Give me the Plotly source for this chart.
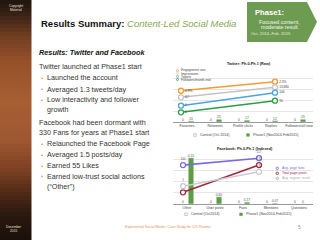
import plotly.graph_objects as go

W, H = 320, 240
def px(x): return x / W
def py(y): return 1 - y / H

# ---------------- data ----------------
tw_categories = ["Favorites", "Retweets", "Profile clicks", "Replies", "Followers/all new"]
tw_control = [0, 0, 0, 0, 0]
tw_phase1 = [10, 25, 17, 12, 25]
tw_periods = [0, 1]
tw_engagement = [57.9, 74.6]
tw_impressions = [45.7, 64.3]
tw_tweets = [30.2, 54.3]
tw_followers = [17.9, 39.4]
tw_engagement_lbl = ["0.9%", "2.3%"]
tw_impressions_lbl = ["67", "13,680"]
tw_tweets_lbl = ["0", "106"]
tw_followers_lbl = ["0", "90"]
tw_series = ["Engagement rate", "Impressions", "Tweets", "Followers/month end"]

fb_categories = ["Other", "User posts", "Fans", "Mentions", "Questions"]
fb_control = [0, 0, 0, 0, 0]
fb_phase1 = [4.15, 0.65, 0.17, 0.07, 0]
fb_periods = [0, 1]
fb_fans = [3.5, 4.12]
fb_posts = [1.05, 3.5]
fb_reach = [1.6, 2.9]
fb_fans_lbl = ["100", "117"]
fb_posts_lbl = ["1", "3.43"]
fb_reach_lbl = ["1", "1.84"]
fb_series = ["Avg. page fans", "Total page posts", "Avg. organic reach"]

body_lines = [
    ("Twitter launched at Phase1 start", False, 66.5),
    ("Launched the account", True, 78),
    ("Averaged 1.3 tweets/day", True, 89),
    ("Low interactivity and follower", True, 99.5),
    ("growth", None, 109.5),
    ("Facebook had been dormant with", False, 122.5),
    ("330 Fans for years at Phase1 start", False, 132.5),
    ("Relaunched the Facebook Page", True, 143.5),
    ("Averaged 1.5 posts/day", True, 154.5),
    ("Earned 55 Likes", True, 165.5),
    ("Earned low-trust social actions", True, 176),
    ("(\u201cOther\u201d)", None, 186),
]

# ---------------- styles ----------------
FONT = "Liberation Sans"
ORANGE = "#f39c32"
GRAYL = "#c4c4c4"
BLUE = "#4ba3e3"
GREEN = "#2d9d47"
BARG = "#5e9d43"
PURPLE = "#7b6be0"
RED = "#a3263f"
LGRAY = "#cccccc"
TXT = "#333333"

fig = go.Figure()

# Twitter bars
fig.add_trace(go.Bar(x=tw_categories, y=tw_control, xaxis="x", yaxis="y",
                     marker_color="#cfcfcf", text=[str(v) for v in tw_control],
                     textposition="outside", textfont=dict(size=3.4, color="#555"),
                     constraintext="none", cliponaxis=False))
fig.add_trace(go.Bar(x=tw_categories, y=tw_phase1, xaxis="x", yaxis="y",
                     marker_color=BARG, text=[str(v) for v in tw_phase1],
                     textposition="outside", textfont=dict(size=3.4, color="#555"),
                     constraintext="none", cliponaxis=False))
# Twitter lines
for vals, lbl, col in [(tw_engagement, tw_engagement_lbl, ORANGE),
                       (tw_impressions, tw_impressions_lbl, GRAYL),
                       (tw_tweets, tw_tweets_lbl, BLUE),
                       (tw_followers, tw_followers_lbl, GREEN)]:
    fig.add_trace(go.Scatter(x=tw_periods, y=vals, xaxis="x2", yaxis="y2",
                             mode="lines+markers+text", text=lbl,
                             textposition="middle right",
                             textfont=dict(size=3.2, color="#444"),
                             line=dict(color=col, width=1.6),
                             marker=dict(symbol="circle", size=5, color="white",
                                         line=dict(color=col, width=1.3)),
                             cliponaxis=False))

# Facebook bars
fig.add_trace(go.Bar(x=fb_categories, y=fb_control, xaxis="x3", yaxis="y3",
                     marker_color="#cfcfcf", text=[str(v) for v in fb_control],
                     textposition="outside", textfont=dict(size=3.4, color="#555"),
                     constraintext="none", cliponaxis=False))
fig.add_trace(go.Bar(x=fb_categories, y=fb_phase1, xaxis="x3", yaxis="y3",
                     marker_color=BARG, text=[str(v) for v in fb_phase1],
                     textposition="outside", textfont=dict(size=3.4, color="#555"),
                     constraintext="none", cliponaxis=False))
for vals, lbl, col in [(fb_fans, fb_fans_lbl, PURPLE),
                       (fb_posts, fb_posts_lbl, RED),
                       (fb_reach, fb_reach_lbl, LGRAY)]:
    fig.add_trace(go.Scatter(x=fb_periods, y=vals, xaxis="x4", yaxis="y4",
                             mode="lines+markers+text", text=lbl,
                             textposition="top center",
                             textfont=dict(size=3.0, color="#555"),
                             line=dict(color=col, width=1.6),
                             marker=dict(symbol="circle", size=5, color="white",
                                         line=dict(color=col, width=1.3)),
                             cliponaxis=False))

xdom = [px(173), px(313)]
tick_font = dict(size=3.6, color="#444", family=FONT)
fig.update_layout(
    width=W, height=H, margin=dict(l=0, r=0, t=0, b=0),
    paper_bgcolor="white", plot_bgcolor="white", showlegend=False,
    font=dict(family=FONT, color=TXT),
    barmode="group", bargap=0.43, bargroupgap=0.31,
    xaxis=dict(domain=xdom, anchor="y", type="category", showgrid=False,
               tickfont=tick_font, ticks="", showline=False, fixedrange=True),
    yaxis=dict(domain=[py(122), py(68)], anchor="x", range=[0, 500], dtick=100,
               showticklabels=False, gridcolor="#e6e6e6", gridwidth=0.5,
               zeroline=True, zerolinecolor="#9a9a9a", zerolinewidth=0.6),
    xaxis2=dict(overlaying="x", range=[-0.085, 1.404], visible=False),
    yaxis2=dict(overlaying="y", range=[0, 100], visible=False),
    xaxis3=dict(domain=xdom, anchor="y3", type="category", showgrid=False,
                tickfont=tick_font, ticks="", showline=False),
    yaxis3=dict(domain=[py(204), py(154)], anchor="x3", range=[0, 4.5], dtick=1,
                showticklabels=False, gridcolor="#e6e6e6", gridwidth=0.5,
                zeroline=True, zerolinecolor="#9a9a9a", zerolinewidth=0.6),
    xaxis4=dict(overlaying="x3", range=[-0.132, 1.711], visible=False),
    yaxis4=dict(overlaying="y3", range=[0, 4.5], visible=False),
)

shapes = []
annots = []

def ann(x, y, text, size, color=TXT, xanchor="left", family=FONT, **kw):
    annots.append(dict(x=px(x), y=py(y), xref="paper", yref="paper", text=text,
                       showarrow=False, xanchor=xanchor, yanchor="middle",
                       font=dict(size=size, color=color, family=family),
                       borderpad=0, **kw))

# ---- left sidebar gradient ----
stops = [(0, (30, 20, 14)), (15, (58, 34, 22)), (35, (110, 60, 32)),
         (60, (148, 80, 42)), (100, (166, 94, 50)), (140, (158, 88, 50)),
         (170, (124, 64, 34)), (195, (76, 40, 22)), (215, (42, 24, 16)),
         (240, (26, 16, 10))]
def col_at(y):
    for (y0, c0), (y1, c1) in zip(stops[:-1], stops[1:]):
        if y0 <= y <= y1:
            t = (y - y0) / (y1 - y0)
            return "rgb(%d,%d,%d)" % tuple(round(a + (b - a) * t) for a, b in zip(c0, c1))
    return "rgb(26,16,10)"
step = 4
for y0 in range(0, 240, step):
    shapes.append(dict(type="rect", xref="paper", yref="paper", x0=0, x1=px(31.5),
                       y0=py(y0 + step), y1=py(y0), fillcolor=col_at(y0 + step / 2),
                       line=dict(width=0), layer="below"))
ann(16, 5.5, "Copyright", 3.3, "#e8e0d8", xanchor="center")
ann(16, 10, "Material", 3.3, "#e8e0d8", xanchor="center")
ann(14, 226.5, "December", 3.3, "#e8e0d8", xanchor="center")
ann(14, 231, "2015", 3.3, "#e8e0d8", xanchor="center")

# ---- title ----
ann(39.5, 24, "<b>Results Summary:</b> <i><span style='color:#8aa655'>Content-Led Social Media</span></i>",
    9.5, "#111")
ann(38, 52.5, "<b><i>Results: Twitter and Facebook</i></b>", 7.3, "#111")

# ---- Phase arrow ----
shapes.append(dict(type="path", xref="paper", yref="paper",
                   path="M %f %f L %f %f L %f %f L %f %f L %f %f Z" % (
                       px(247), py(2), px(307), py(2), px(317), py(22),
                       px(307), py(42), px(247), py(42)),
                   fillcolor="#6e9b52", line=dict(width=0)))
ann(254, 12.5, "<b>Phase1:</b>", 7.6, "white")
ann(279, 22.3, "Focused content,", 5.3, "#f4f8ee", xanchor="center")
ann(279, 26.8, "moderate result", 5.3, "#f4f8ee", xanchor="center")
ann(271, 33.3, "Oct. 2014\u2013Feb. 2015", 4.2, "#e4eed8", xanchor="center")

# ---- body text ----
for text, bullet, y in body_lines:
    if bullet is False:
        ann(38, y, text, 7.2, TXT)
    else:
        ann(45.5, y, text, 7.2, TXT)
        if bullet:
            ann(39.5, y, "\u2022", 6, "#e08a3c")

# ---- footer ----
ann(168, 227, "Experiential Social Media: Case Study for 125 Rooms", 3.6, "#e2935a", xanchor="center")
ann(299, 227, "5", 4.5, "#888", xanchor="center")

# ---- chart titles ----
ann(249, 64.3, "<b>Twitter: Ph.0-Ph.1 (Raw)</b>", 3.8, "#222", xanchor="center")
ann(245, 149.0, "<b>Facebook: Ph.0-Ph.1 (Indexed)</b>", 3.8, "#222", xanchor="center")

# Twitter legend (top-left)
for (name, col), y in zip(zip(tw_series, [ORANGE, GRAYL, BLUE, GREEN]), [70.5, 73.5, 76.5, 79.5]):
    shapes.append(dict(type="circle", xref="paper", yref="paper",
                       x0=px(176.5), x1=px(178.5), y0=py(y + 1), y1=py(y - 1),
                       fillcolor="white", line=dict(color=col, width=0.8)))
    ann(180, y, name, 3.2, "#444")

# Facebook legend (right)
for (name, col), y in zip(zip(fb_series, [PURPLE, RED, "#aaaaaa"]), [168.3, 173.3, 178.3]):
    shapes.append(dict(type="circle", xref="paper", yref="paper",
                       x0=px(276), x1=px(278.5), y0=py(y + 1.2), y1=py(y - 1.2),
                       fillcolor="white", line=dict(color=col, width=0.9)))
    ann(281, y, name, 3.4, col)

# bottom legends
def swatch(x, y, filled):
    shapes.append(dict(type="rect", xref="paper", yref="paper",
                       x0=px(x - 1.3), x1=px(x + 1.3), y0=py(y + 1.3), y1=py(y - 1.3),
                       fillcolor=BARG if filled else "white",
                       line=dict(color=BARG if filled else "#aaaaaa", width=0.6)))
swatch(195, 135, False); ann(198.5, 135, "Control (Oct 2014)", 3.6, "#444")
swatch(248, 135, True); ann(251.5, 135, "Phase1 (Nov2014-Feb2015)", 3.6, "#444")
swatch(186, 214.3, False); ann(189.5, 214.3, "Control (Oct2014)", 3.6, "#444")
swatch(241, 214.3, True); ann(244.5, 214.3, "Phase1 (Nov2014-Feb2015)", 3.6, "#444")

fig.update_layout(shapes=shapes, annotations=annots)
fig.write_html("out.html")
